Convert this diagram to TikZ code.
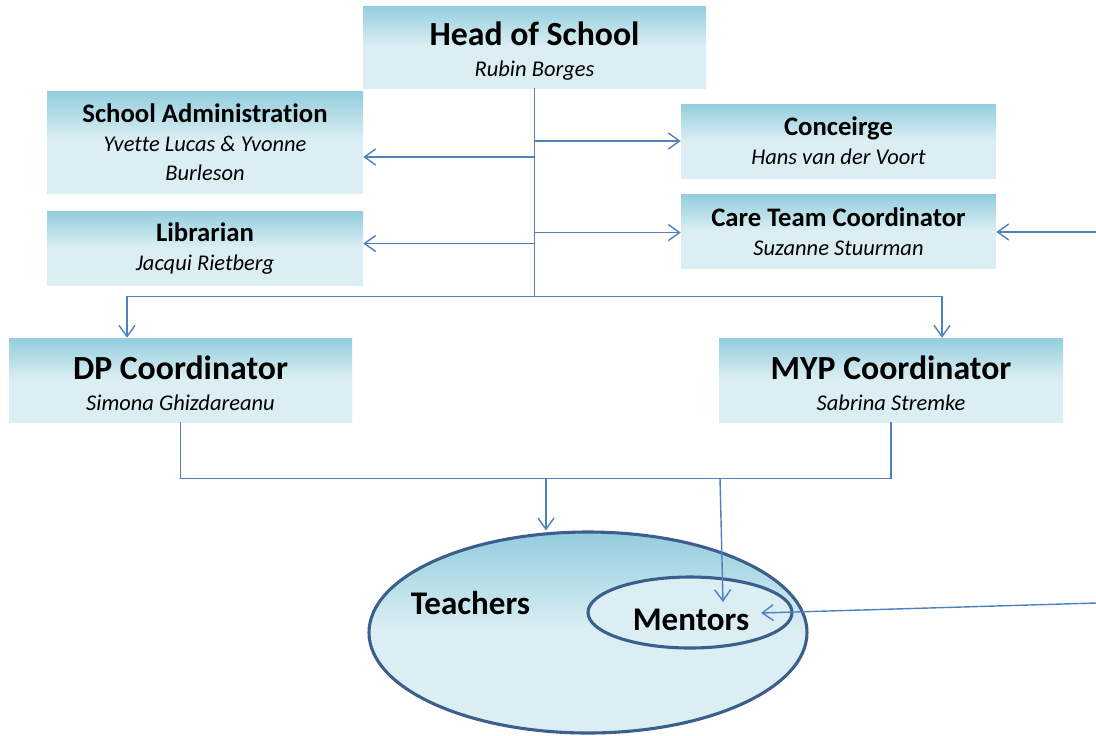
\documentclass[tikz,border=0pt]{standalone}
\usepackage{fontspec}
\setmainfont{Carlito}[Ligatures=NoCommon]
\usepackage{tikz}
\usetikzlibrary{shapes.geometric, arrows.meta, positioning, calc}
\definecolor{BoxTop}{HTML}{93CDDD}
\definecolor{BoxLight}{HTML}{DAEEF3}
\definecolor{LinkBlue}{HTML}{4F81BD}
\definecolor{RingBlue}{HTML}{3B5E8C}
\pgfdeclareverticalshading{roleshade}{100bp}{color(0bp)=(BoxLight); color(51bp)=(BoxLight); color(75bp)=(BoxTop); color(100bp)=(BoxTop)}
\newcommand{\namefont}{\fontsize{16}{20}\selectfont\mdseries\itshape}
\newcommand{\topstrut}{\rule{0pt}{22pt}}
\tikzset{
  % Box styles
  rolebox/.style={rectangle, shading=roleshade, align=center, inner sep=2pt, minimum width=7.9cm, minimum height=1.85cm, font=\fontsize{19}{20.5}\selectfont\bfseries},
  bigbox/.style={rolebox, minimum width=8.575cm, minimum height=2.05cm, font=\fontsize{24}{22}\selectfont\bfseries},
  % Ellipse styles
  groupring/.style={ellipse, draw=RingBlue, line width=2.2pt, inner sep=0pt},
  grouplabel/.style={font=\fontsize{23.5}{28}\selectfont\bfseries},
  % Arrow styles
  link/.style={line width=1pt, LinkBlue},
  arrow/.style={link, -{Straight Barb[length=0.28cm, width=0.4cm]}}
}

\begin{document}
\begin{tikzpicture}
  \useasboundingbox (0,0) rectangle (27.4,-18.375);

  % Top
  \node[bigbox] (head) at (13.3625,-1.175) {\topstrut Head of School\\\namefont Rubin Borges};

  % Staff left
  \node[rolebox, minimum height=2.55cm] (admin) at (5.125,-3.55) {School Administration\\\namefont Yvette Lucas \& Yvonne\\\namefont Burleson};
  \node[rolebox, below=0.45cm of admin] (lib) {Librarian\\\namefont Jacqui Rietberg};

  % Staff right
  \node[rolebox, minimum width=7.875cm] (conc) at (20.9625,-3.525) {Conceirge\\\namefont Hans van der Voort};
  \node[rolebox, minimum width=7.875cm, below=0.4cm of conc] (care) {Care Team Coordinator\\\namefont Suzanne Stuurman};

  % Coordinators
  \node[bigbox, minimum height=2.1cm] (dp) at (4.5125,-9.5) {\topstrut DP Coordinator\\\namefont Simona Ghizdareanu};
  \node[bigbox, minimum height=2.1cm, minimum width=8.6cm] (myp) at (22.275,-9.5) {\topstrut MYP Coordinator\\\namefont Sabrina Stremke};

  % Teachers and mentors
  \node[groupring, shading=roleshade, minimum width=10.95cm, minimum height=5.025cm] (teachers) at (14.7,-15.8125) {};
  \node[groupring, fill=BoxLight, minimum width=5.1cm, minimum height=1.775cm] (mentors) at (17.25,-15.3125) {};
  \node[grouplabel] (teacherstext) at (11.7625,-15.075) {Teachers};
  \node[grouplabel] (mentorstext) at (17.275,-15.5) {Mentors};

  % Joints and free ends
  \coordinate (hub) at ($(head.south)+(0,-5.2)$);
  \coordinate (base) at ($(dp.south)+(0,-1.4)$);
  \coordinate (tojoin) at (base -| 13.65,0);
  \coordinate (mjoin) at (base -| 18.0,0);
  \coordinate (mtop) at (18.075,-15.05);
  \coordinate (mside) at (19.025,-15.325);
  \coordinate (edgecare) at (27.4,-5.8);
  \coordinate (edgementor) at (27.4,-15.075);

  % Arrows
  \draw[link] (head.south) -- (hub);
  \draw[arrow] ([yshift=-0.375cm]admin.east -| head.south) -- ([yshift=-0.375cm]admin.east);
  \draw[arrow] ([yshift=0.125cm]lib.east -| head.south) -- ([yshift=0.125cm]lib.east);
  \draw[arrow] (conc.west -| head.south) -- (conc.west);
  \draw[arrow] ([yshift=-0.025cm]care.west -| head.south) -- ([yshift=-0.025cm]care.west);
  \draw[arrow] (hub) -| ([xshift=-1.3375cm]dp.north);
  \draw[arrow] (hub) -| ([xshift=1.275cm]myp.north);

  \draw[link] (dp.south) -- (base) -| (myp.south);
  \draw[arrow] (tojoin) -- (tojoin |- teachers.north);
  \draw[arrow] (mjoin) -- (mtop);
  \draw[arrow] (edgecare) -- (edgecare -| care.east);
  \draw[arrow] (edgementor) -- (mside);
\end{tikzpicture}
\end{document}
